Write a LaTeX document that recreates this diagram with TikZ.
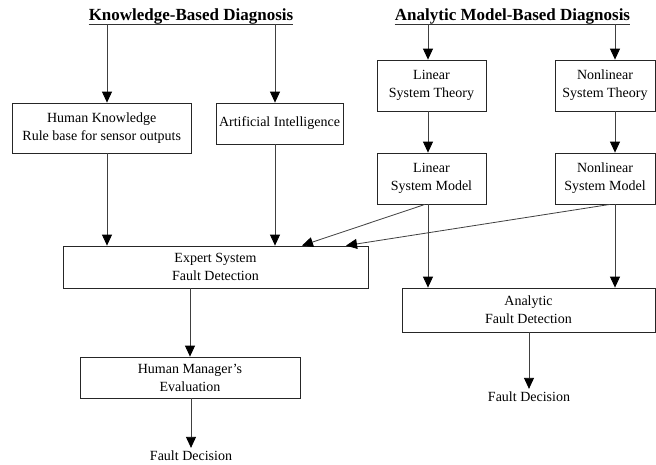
\documentclass[tikz,border=0pt]{standalone}
\usepackage{fontspec}
\setmainfont{Liberation Serif}
\usetikzlibrary{arrows.meta}
\begin{document}
\begin{tikzpicture}[x=1pt,y=-1pt,
  box/.style={draw=black!85, line width=0.8pt, rectangle, inner sep=0pt,
    align=center, font=\fontsize{14}{18}\selectfont},
  heading/.style={anchor=south, inner sep=0pt, text depth=3.8pt,
    font=\fontsize{17}{20}\selectfont\bfseries},
  arr/.style={draw=black!75, line width=0.8pt,
    -{Triangle[width=10pt,length=11pt,color=black]}},
  rule/.style={draw=black!80, line width=0.8pt},
  result/.style={inner sep=3pt, font=\fontsize{14}{18}\selectfont}]

\fill[white] (0,0) rectangle (656,464);
\useasboundingbox (0,0) rectangle (656,464);

% headings
\node[heading] (kbd) at (191,24) {Knowledge-Based Diagnosis};
\node[heading] (amd) at (512.5,24) {Analytic Model-Based Diagnosis};
\draw[rule] (kbd.south west) -- (kbd.south east);
\draw[rule] (amd.south west) -- (amd.south east);

% column positions of the vertical connectors
\coordinate (c1) at (107,0);
\coordinate (c2) at (275,0);
\coordinate (c3) at (428,0);
\coordinate (c4) at (615,0);
% end points of the slanted connectors
\coordinate (d1) at (425,0);
\coordinate (d2) at (302,0);
\coordinate (d3) at (610,0);
\coordinate (d4) at (346,0);

% boxes
\node[box, minimum width=178.5pt, minimum height=50pt] (hk) at (101.75,128)
  {Human Knowledge\\Rule base for sensor outputs};
\node[box, minimum width=127pt, minimum height=41pt] (ai) at (279.5,123.5)
  {Artificial Intelligence};
\node[box, minimum width=109pt, minimum height=51pt] (lst) at (431.5,85.5)
  {Linear\\System Theory};
\node[box, minimum width=100pt, minimum height=51pt] (nst) at (605,85.5)
  {Nonlinear\\System Theory};
\node[box, minimum width=109pt, minimum height=51pt] (lsm) at (431.5,178.5)
  {Linear\\System Model};
\node[box, minimum width=100pt, minimum height=51pt] (nsm) at (605,178.5)
  {Nonlinear\\System Model};
\node[box, minimum width=305pt, minimum height=42pt] (exp) at (215.5,267)
  {Expert System\\Fault Detection};
\node[box, minimum width=253pt, minimum height=44pt] (afd) at (528.5,310)
  {Analytic\\Fault Detection};
\node[box, minimum width=220pt, minimum height=41pt] (hm) at (190,377.5)
  {Human Manager's\\Evaluation};

\node[result] (fd1) at (191,456) {Fault Decision};
\node[result] (fd2) at (529,397) {Fault Decision};

% connectors
\draw[arr] (kbd.south -| c1) -- (hk.north -| c1);
\draw[arr] (kbd.south -| c2) -- (ai.north -| c2);
\draw[arr] (amd.south -| c3) -- (lst.north -| c3);
\draw[arr] (amd.south -| c4) -- (nst.north -| c4);
\draw[arr] (lst.south -| c3) -- (lsm.north -| c3);
\draw[arr] (nst.south -| c4) -- (nsm.north -| c4);
\draw[arr] (hk.south -| c1) -- (exp.north -| c1);
\draw[arr] (ai.south -| c2) -- (exp.north -| c2);
\draw[arr] (lsm.south -| d1) -- (exp.north -| d2);
\draw[arr] (nsm.south -| d3) -- (exp.north -| d4);
\draw[arr] (lsm.south -| c3) -- (afd.north -| c3);
\draw[arr] (nsm.south -| c4) -- (afd.north -| c4);
\draw[arr] (exp.south -| hm) -- (hm.north);
\draw[arr] (hm.south -| fd1) -- (fd1.north);
\draw[arr] (afd.south -| fd2) -- (fd2.north);
\end{tikzpicture}
\end{document}
